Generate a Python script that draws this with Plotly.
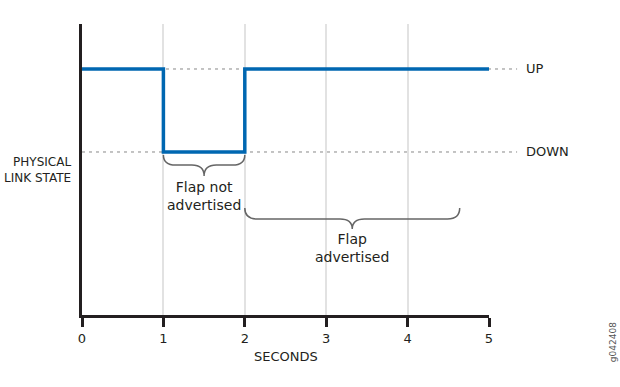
import plotly.graph_objects as go

# Data
times = [0, 1, 2, 5]            # step change times (seconds)
states = [1, 0, 1, 1]           # 1 = UP, 0 = DOWN
state_labels = ["DOWN", "UP"]
state_values = [0, 1]
tick_vals = [0, 1, 2, 3, 4, 5]
tick_text = ["0", "1", "2", "3", "4", "5"]
brace_spans = [(1, 2), (2, 4.64)]
brace_labels = ["Flap not<br>advertised", "Flap<br>advertised"]

FONT = "DejaVu Sans"
DARK = "#231f20"
BLUE = "#0067b1"
GRAY = "#666666"

fig = go.Figure()

fig.add_trace(go.Scatter(
    x=times, y=states, mode="lines", line_shape="hv",
    line=dict(color=BLUE, width=3.5), hoverinfo="skip", showlegend=False,
))

# Dotted reference levels (extend past plot to labels)
for v, lab in zip(state_values, state_labels):
    fig.add_shape(type="line", xref="paper", yref="y", x0=0, x1=1.069, y0=v, y1=v,
                  line=dict(color="#888888", width=1, dash="3px,4px"), layer="below")
    fig.add_annotation(text=lab, xref="paper", yref="y", x=1.086, y=v, xanchor="left",
                       yanchor="middle", showarrow=False,
                       font=dict(family=FONT, size=13, color=DARK))

# Braces
brace_geo = [(-0.036, -0.157, -0.29), (-0.675, -0.807, -0.928)]
brace_tip = [1.5, 3.32]
text_y = [-0.53, -1.16]
for (x0, x1), (yt, yh, yp), xm, lab, ty in zip(brace_spans, brace_geo, brace_tip, brace_labels, text_y):
    r = 0.15
    path = (f"M {x0},{yt} Q {x0},{yh} {x0 + r},{yh} L {xm - r},{yh} "
            f"Q {xm},{yh} {xm},{yp} Q {xm},{yh} {xm + r},{yh} "
            f"L {x1 - r},{yh} Q {x1},{yh} {x1},{yt}")
    fig.add_shape(type="path", path=path, xref="x", yref="y",
                  line=dict(color=GRAY, width=1.5))
    fig.add_annotation(text=lab, x=xm, y=ty, xref="x", yref="y", showarrow=False,
                       font=dict(family=FONT, size=14, color=DARK), align="center")

fig.add_annotation(text="PHYSICAL<br>LINK STATE", xref="paper", yref="paper",
                   x=-0.022, y=0.498, xanchor="right", yanchor="middle", align="right",
                   showarrow=False, font=dict(family=FONT, size=12, color=DARK))
fig.add_annotation(text="SECONDS", xref="paper", yref="paper", x=0.5, y=-0.141,
                   xanchor="center", yanchor="middle", showarrow=False,
                   font=dict(family=FONT, size=13, color=DARK))
fig.add_annotation(text="g042408", xref="paper", yref="paper", x=1.305, y=-0.093,
                   xanchor="center", yanchor="middle", textangle=-90, showarrow=False,
                   font=dict(family=FONT, size=9, color="#555555"))

fig.update_xaxes(range=[0, 5], tickvals=tick_vals, ticktext=tick_text,
                 showline=True, linecolor=DARK, linewidth=3,
                 ticks="outside", ticklen=9, tickwidth=3, tickcolor=DARK,
                 showgrid=True, gridcolor="#e2e2e2", gridwidth=1.5, zeroline=False,
                 tickfont=dict(family=FONT, size=13, color=DARK), fixedrange=True)
fig.update_yaxes(range=[-1.964, 1.542], showline=True, linecolor=DARK, linewidth=3,
                 showticklabels=False, ticks="", showgrid=False, zeroline=False,
                 fixedrange=True)

fig.update_layout(width=620, height=387, margin=dict(l=82, r=131, t=24, b=72),
                  paper_bgcolor="white", plot_bgcolor="white", showlegend=False)

# remove the default 8px page margin so the figure fills the window exactly
fig.write_html("out.html", post_script="document.body.style.margin='0';",
               config={"displayModeBar": False})
